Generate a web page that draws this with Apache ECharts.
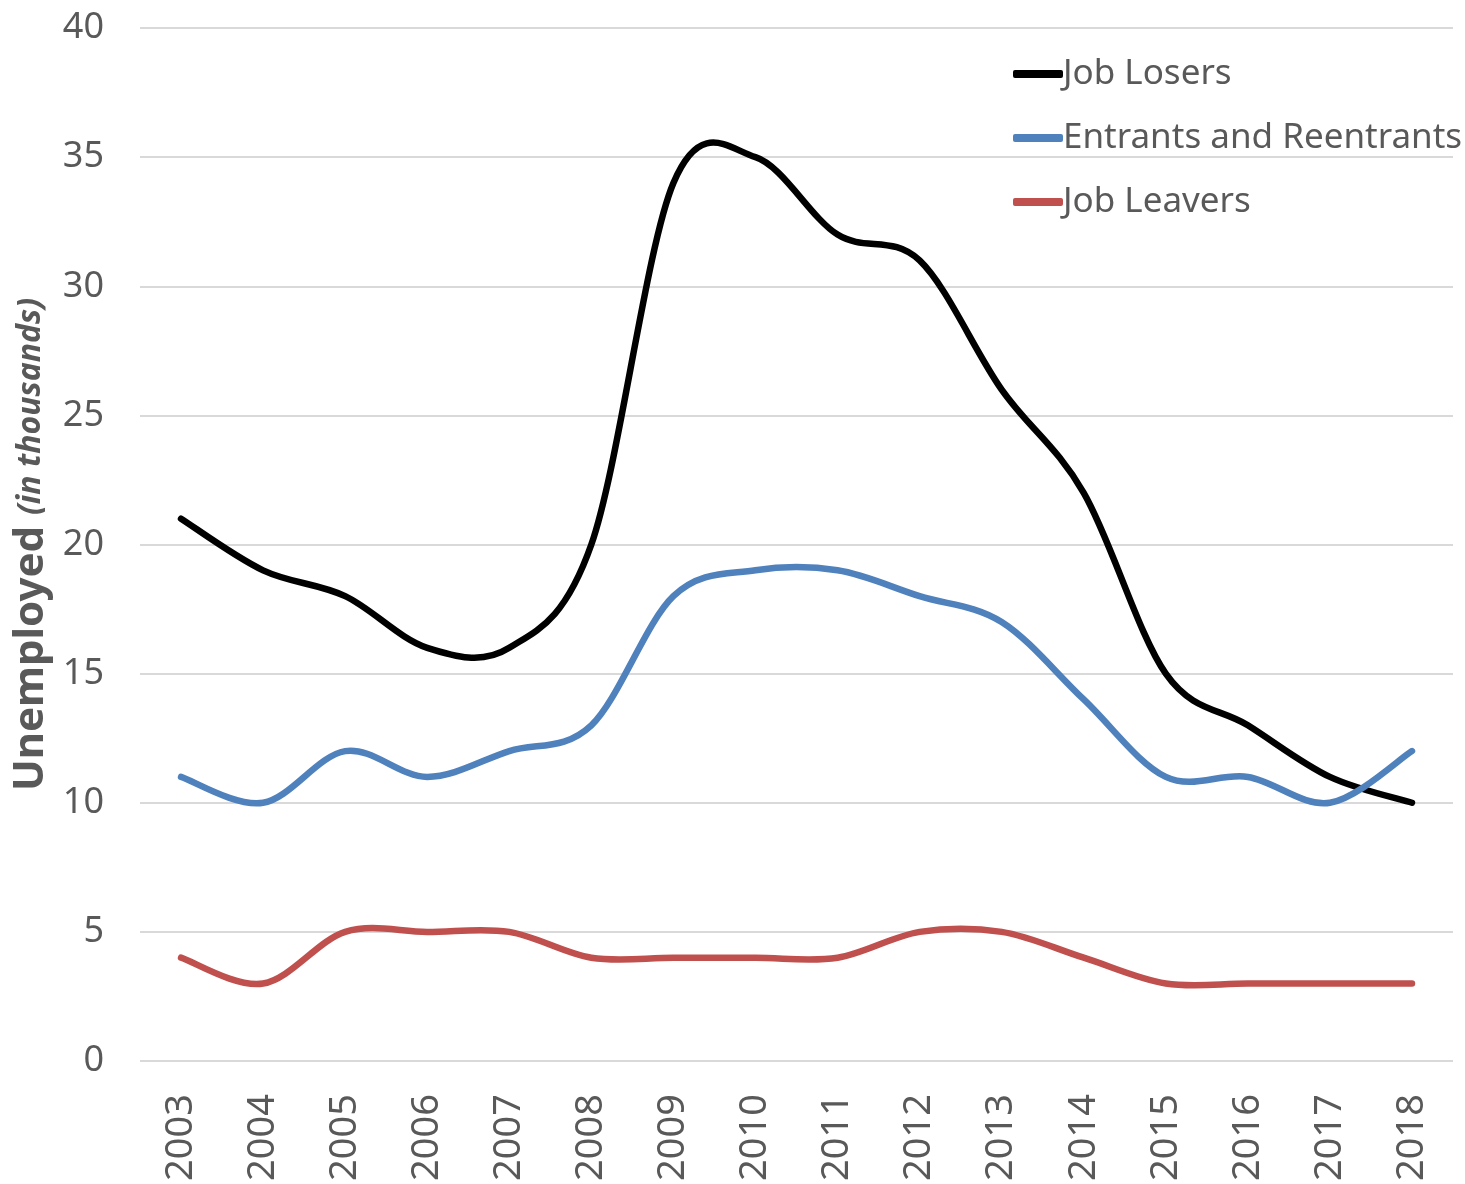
<!DOCTYPE html>
<html>
<head>
<meta charset="utf-8">
<script src="https://cdn.jsdelivr.net/npm/echarts@6/dist/echarts.min.js"></script>
<style>
  html, body { margin: 0; padding: 0; background: #fff; }
  #main { width: 1465px; height: 1184px; }
</style>
</head>
<body>
<div id="main"></div>
<script>
// 年份
var years = ["2003", "2004", "2005", "2006", "2007", "2008", "2009", "2010",
  "2011", "2012", "2013", "2014", "2015", "2016", "2017", "2018"];
// 各类失业人数（千人）
var jobLosers = [21, 19, 18, 16, 16, 20, 34, 35, 32, 31, 26, 22, 15, 13, 11, 10];
var entrants = [11, 10, 12, 11, 12, 13, 18, 19, 19, 18, 17, 14, 11, 11, 10, 12];
var jobLeavers = [4, 3, 5, 5, 5, 4, 4, 4, 4, 5, 5, 4, 3, 3, 3, 3];

var font = "Noto Sans";
var grey = "#595959";

var myChart = echarts.init(document.getElementById("main"));

// Excel风格平滑曲线（Catmull-Rom），点位由坐标系换算
function smoothSeries(name, data, color) {
  return {
    name: name,
    type: "custom",
    data: data.map(function (v, i) { return [i, v]; }),
    itemStyle: { color: color },
    clip: false,
    encode: { x: 0, y: 1 },
    renderItem: function (params, api) {
      if (params.dataIndex !== 0) return;
      var pts = [];
      for (var i = 0; i < data.length; i++) {
        pts.push(api.coord([i, data[i]]));
      }
      var d = "M" + pts[0][0] + " " + pts[0][1];
      for (var k = 0; k < pts.length - 1; k++) {
        var p0 = pts[k - 1] || pts[k];
        var p1 = pts[k];
        var p2 = pts[k + 1];
        var p3 = pts[k + 2] || pts[k + 1];
        var c1x = p1[0] + (p2[0] - p0[0]) / 6;
        var c1y = p1[1] + (p2[1] - p0[1]) / 6;
        var c2x = p2[0] - (p3[0] - p1[0]) / 6;
        var c2y = p2[1] - (p3[1] - p1[1]) / 6;
        d += " C" + c1x + " " + c1y + " " + c2x + " " + c2y + " " + p2[0] + " " + p2[1];
      }
      return {
        type: "path",
        shape: { pathData: d },
        style: { fill: null, stroke: color, lineWidth: 6.5, lineCap: "round", lineJoin: "round" }
      };
    }
  };
}

var option = {
  backgroundColor: "#fff",
  animation: false,
  grid: { left: 140, right: 12, top: 28, bottom: 123, outerBoundsMode: "none", containLabel: false },
  legend: {
    orient: "vertical",
    left: 1008,
    top: 49,
    itemWidth: 50,
    itemHeight: 8,
    itemGap: 24,
    icon: "roundRect",
    textStyle: { fontFamily: font, fontSize: 35, color: grey, lineHeight: 40, padding: [0, 0, 0, -5] },
    data: ["Job Losers", "Entrants and Reentrants", "Job Leavers"]
  },
  xAxis: {
    type: "category",
    data: years,
    boundaryGap: true,
    axisLine: { show: false },
    axisTick: { show: false },
    axisLabel: {
      rotate: 90,
      margin: 33,
      fontFamily: font,
      fontSize: 38,
      color: grey
    }
  },
  yAxis: {
    type: "value",
    min: 0,
    max: 40,
    interval: 5,
    name: "{b|Unemployed }{i|(in thousands)}",
    nameLocation: "middle",
    nameRotate: 90,
    nameGap: 86,
    nameTextStyle: {
      rich: {
        b: { fontFamily: font, fontWeight: "bold", fontSize: 42, color: grey },
        i: { fontFamily: font, fontWeight: "bold", fontStyle: "italic", fontSize: 32, color: grey }
      }
    },
    axisLine: { show: false },
    axisTick: { show: false },
    splitLine: { lineStyle: { color: "#d9d9d9", width: 2 } },
    axisLabel: {
      margin: 36,
      fontFamily: font,
      fontSize: 36,
      color: grey
    }
  },
  series: [
    smoothSeries("Job Losers", jobLosers, "#000000"),
    smoothSeries("Entrants and Reentrants", entrants, "#4f81bd"),
    smoothSeries("Job Leavers", jobLeavers, "#c0504d")
  ]
};

myChart.setOption(option, true);
</script>
</body>
</html>
